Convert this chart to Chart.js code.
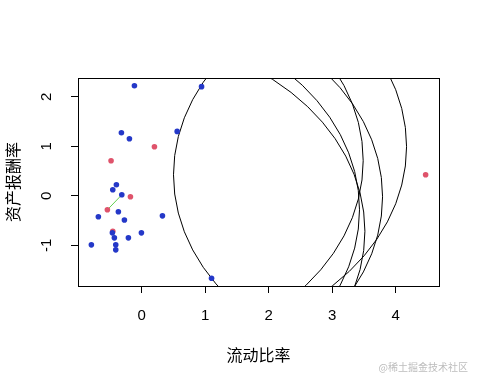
<!DOCTYPE html>
<html lang="zh">
<head>
<meta charset="UTF-8">
<title>流动比率 vs 资产报酬率</title>
<script src="https://cdn.jsdelivr.net/npm/chart.js"></script>
<style>
  body { margin: 0; background: #fff; }
  canvas { display: block; }
</style>
</head>
<body>
<canvas id="chart" width="480" height="384"></canvas>
<script>
// points
const blueX = [-0.115, 0.942, -0.320, -0.194, 0.558, -0.399, -0.456, -0.314, -0.368, -0.683,
               -0.273, 0.326, -0.005, -0.210, -0.462, -0.431, -0.409, -0.409, -0.793, 1.099];
const blueY = [2.226, 2.207, 1.275, 1.154, 1.302, 0.223, 0.121, 0.020, -0.324, -0.425,
               -0.490, -0.405, -0.749, -0.850, -0.749, -0.850, -0.992, -1.093, -0.992, -1.668];
const pinkX = [0.200, -0.483, -0.178, -0.541, -0.456, 4.470];
const pinkY = [0.992, 0.709, -0.020, -0.283, -0.717, 0.425];
// circles are centred on the pink points, radius in axis units
const circleR = 3.97;
// green segment
const segX = [-0.541, -0.314];
const segY = [-0.283, 0.020];
const xTicks = [0, 1, 2, 3, 4];
const yTicks = [-1, 0, 1, 2];
const xTitle = '流动比率';
const yTitle = '资产报酬率';
const watermark = '@稀土掘金技术社区';

const pts = (xs, ys) => xs.map((v, i) => ({ x: v, y: ys[i] }));

// R style range: data range widened by 4% each side
const allX = blueX.concat(pinkX), allY = blueY.concat(pinkY);
const xLo = Math.min(...allX), xHi = Math.max(...allX);
const yLo = Math.min(...allY), yHi = Math.max(...allY);
const xPad = (xHi - xLo) * 0.04, yPad = (yHi - yLo) * 0.04;

const cjk = '"Noto Sans CJK SC", sans-serif';
const num = '"Liberation Sans", Arial, sans-serif';

const extras = {
  id: 'extras',
  beforeDatasetsDraw(chart) {
    const { ctx, chartArea: a, scales: { x, y } } = chart;
    ctx.save();
    ctx.beginPath();
    ctx.rect(a.left, a.top, a.right - a.left, a.bottom - a.top);
    ctx.clip();
    ctx.strokeStyle = '#000';
    ctx.lineWidth = 1;
    pinkX.forEach((cx, i) => {
      const px = x.getPixelForValue(cx), py = y.getPixelForValue(pinkY[i]);
      const rx = x.getPixelForValue(cx + circleR) - px;
      const ry = py - y.getPixelForValue(pinkY[i] + circleR);
      ctx.beginPath();
      ctx.ellipse(px, py, rx, ry, 0, 0, Math.PI * 2);
      ctx.stroke();
    });
    ctx.restore();
  },
  afterDraw(chart) {
    const { ctx, chartArea: a, scales: { x, y } } = chart;
    ctx.save();
    // box
    ctx.strokeStyle = '#000';
    ctx.lineWidth = 1;
    ctx.strokeRect(Math.round(a.left) + 0.5, Math.round(a.top) + 0.5,
                   Math.round(a.right - a.left), Math.round(a.bottom - a.top));
    ctx.fillStyle = '#000';
    // x tick labels
    ctx.font = '15px ' + num;
    ctx.textAlign = 'center';
    ctx.textBaseline = 'middle';
    xTicks.forEach(v => ctx.fillText(String(v), x.getPixelForValue(v), a.bottom + 30));
    // y tick labels, rotated
    yTicks.forEach(v => {
      ctx.save();
      ctx.translate(a.left - 31, y.getPixelForValue(v));
      ctx.rotate(-Math.PI / 2);
      ctx.fillText(String(v), 0, 0);
      ctx.restore();
    });
    // titles
    ctx.font = '16px ' + cjk;
    ctx.fillText(xTitle, (a.left + a.right) / 2, a.bottom + 69);
    ctx.save();
    ctx.translate(13, (a.top + a.bottom) / 2);
    ctx.rotate(-Math.PI / 2);
    ctx.fillText(yTitle, 0, 0);
    ctx.restore();
    // watermark
    ctx.font = '10px ' + cjk;
    ctx.fillStyle = '#bdbdbd';
    ctx.textAlign = 'right';
    ctx.fillText(watermark, 468, 367);
    ctx.restore();
  }
};

const axisBase = {
  type: 'linear',
  border: { display: false },
  grid: { drawOnChartArea: false, drawTicks: true, tickLength: 7, color: '#000', lineWidth: 1 },
  ticks: { display: false }
};

new Chart(document.getElementById('chart'), {
  type: 'scatter',
  data: {
    datasets: [
      {
        data: pts(blueX, blueY),
        backgroundColor: '#2438c8',
        borderWidth: 0,
        pointRadius: 2.8
      },
      {
        data: pts(pinkX, pinkY),
        backgroundColor: '#df536b',
        borderWidth: 0,
        pointRadius: 2.8
      },
      {
        data: pts(segX, segY),
        showLine: true,
        borderColor: '#61d04f',
        borderWidth: 1,
        pointRadius: 0
      }
    ]
  },
  options: {
    responsive: false,
    animation: false,
    layout: { padding: { top: 78, right: 41, bottom: 0, left: 0 } },
    plugins: { legend: { display: false }, tooltip: { enabled: false } },
    scales: {
      x: Object.assign({}, axisBase, {
        position: 'bottom',
        min: xLo - xPad,
        max: xHi + xPad,
        afterBuildTicks: s => { s.ticks = xTicks.map(v => ({ value: v })); },
        afterFit: s => { s.height = 98; }
      }),
      y: Object.assign({}, axisBase, {
        position: 'left',
        min: yLo - yPad,
        max: yHi + yPad,
        afterBuildTicks: s => { s.ticks = yTicks.map(v => ({ value: v })); },
        afterFit: s => { s.width = 78; }
      })
    }
  },
  plugins: [extras]
});
</script>
</body>
</html>
